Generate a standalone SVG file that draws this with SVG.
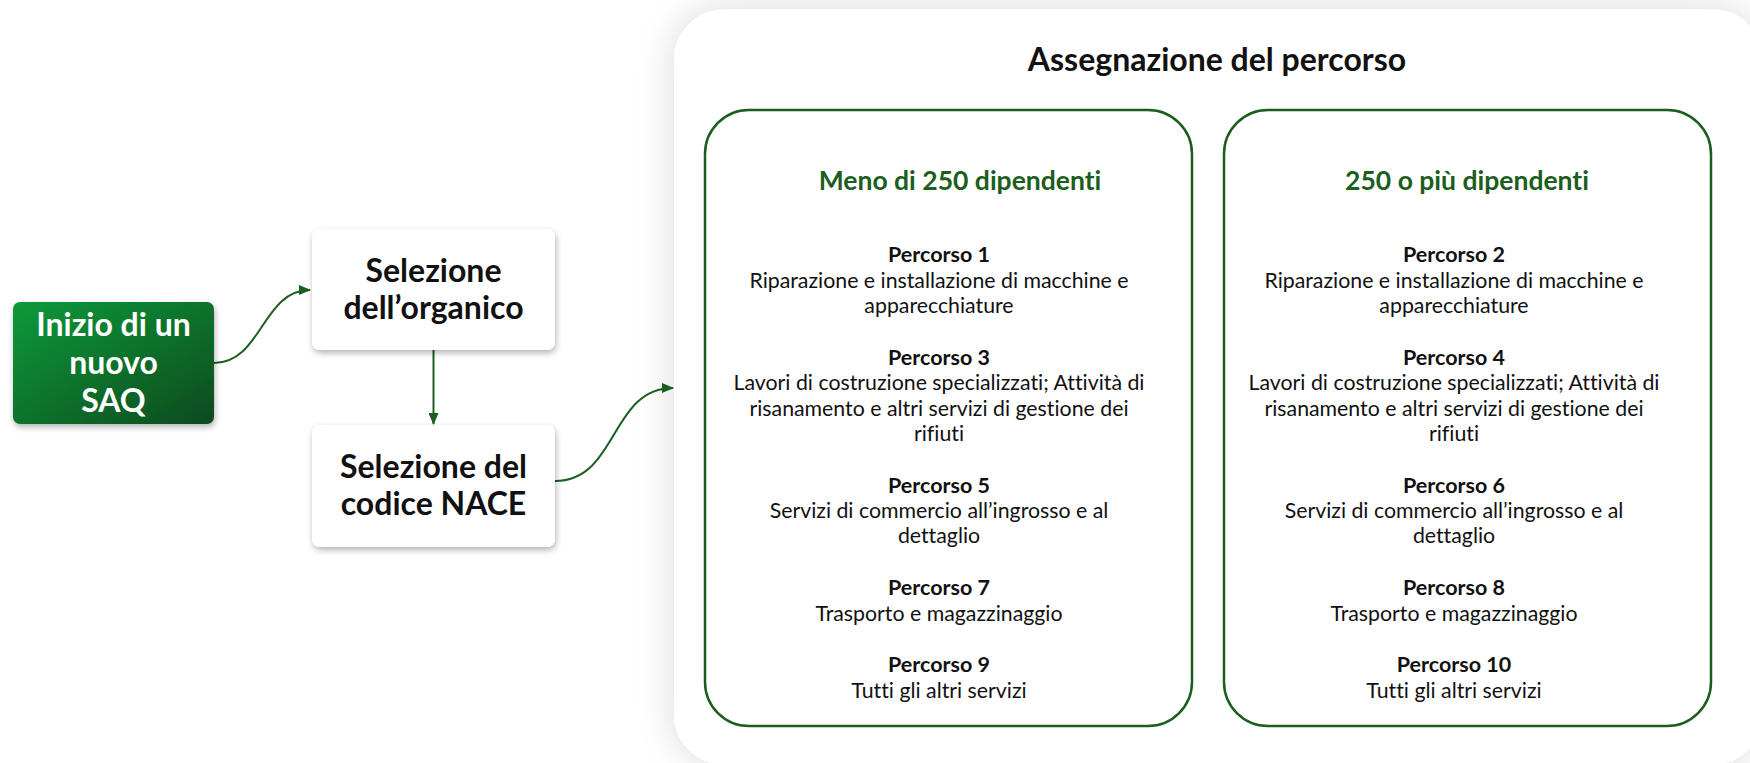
<svg xmlns="http://www.w3.org/2000/svg" width="1750" height="763" viewBox="0 0 1750 763">
<style>
  text { font-family: Lato, "Liberation Sans", sans-serif; font-variant-ligatures: no-common-ligatures; }
  .node { font-size: 32px; font-weight: 700; text-anchor: middle; fill: #111; }
  .start { font-size: 32px; font-weight: 700; text-anchor: middle; fill: #ffffff; }
  .title { font-size: 32px; font-weight: 700; text-anchor: middle; fill: #111; }
  .head { font-size: 26.5px; font-weight: 700; text-anchor: middle; fill: #1b5e20; }
  .pb { font-size: 21.5px; font-weight: 700; text-anchor: middle; fill: #111; }
  .pt { font-size: 21.3px; font-weight: 400; text-anchor: middle; fill: #111; }
  .box { fill: #ffffff; stroke: #1b5e20; stroke-width: 2.5; }
  .card { fill: #ffffff; filter: url(#cardShadow); }
  .conn { fill: none; stroke: #1b5e20; stroke-width: 2; marker-end: url(#arrow); }
</style>
<defs>
  <linearGradient id="gStart" x1="0" y1="0" x2="1" y2="1">
    <stop offset="0" stop-color="#0b9a3a"/>
    <stop offset="1" stop-color="#0a4a1e"/>
  </linearGradient>
  <filter id="panelShadow" filterUnits="userSpaceOnUse" x="560" y="-100" width="1300" height="960">
    <feDropShadow dx="0" dy="0" stdDeviation="18" flood-color="#000" flood-opacity="0.15"/>
  </filter>
  <filter id="cardShadow" x="-20%" y="-20%" width="140%" height="150%">
    <feDropShadow dx="1" dy="3" stdDeviation="3" flood-color="#000" flood-opacity="0.3"/>
  </filter>
  <marker id="arrow" viewBox="0 0 12 10" refX="11" refY="5" markerWidth="12" markerHeight="10" markerUnits="userSpaceOnUse" orient="auto">
    <path d="M0,0 L12,5 L0,10 Z" fill="#1b5e20"/>
  </marker>
</defs>
<rect width="1750" height="763" fill="#ffffff"/>

<g id="panel">
  <rect x="674" y="9.5" width="1089" height="755" rx="50" fill="#ffffff" filter="url(#panelShadow)"/>
  <text class="title" x="1217" y="71">Assegnazione del percorso</text>
</g>

<g id="connectors">
  <path class="conn" d="M214,363 C262,363 262,290 310,290"/>
  <path class="conn" d="M433.5,350 L433.5,424"/>
  <path class="conn" d="M555,481 C618,481 610,388 673,388"/>
</g>

<g id="start">
  <rect x="13" y="302" width="201" height="122" rx="7" fill="url(#gStart)" filter="url(#cardShadow)"/>
  <text class="start" x="113.5" y="336">Inizio di un</text>
  <text class="start" x="113.5" y="374">nuovo</text>
  <text class="start" x="113.5" y="412">SAQ</text>
</g>

<g id="organico">
  <rect class="card" x="312" y="229" width="243" height="121" rx="8"/>
  <text class="node" x="433.5" y="282">Selezione</text>
  <text class="node" x="433.5" y="319">dell’organico</text>
</g>

<g id="nace">
  <rect class="card" x="312" y="425" width="243" height="122" rx="8"/>
  <text class="node" x="433.5" y="478">Selezione del</text>
  <text class="node" x="433.5" y="515">codice NACE</text>
</g>

<g id="meno250">
  <rect class="box" x="705" y="110" width="487" height="616" rx="44"/>
  <text class="head" x="960" y="190">Meno di 250 dipendenti</text>
  <text class="pb" x="939" y="262">Percorso 1</text>
  <text class="pt" x="939" y="287.5">Riparazione e installazione di macchine e</text>
  <text class="pt" x="939" y="313">apparecchiature</text>
  <text class="pb" x="939" y="365">Percorso 3</text>
  <text class="pt" x="939" y="390">Lavori di costruzione specializzati; Attività di</text>
  <text class="pt" x="939" y="415.5">risanamento e altri servizi di gestione dei</text>
  <text class="pt" x="939" y="441">rifiuti</text>
  <text class="pb" x="939" y="492.5">Percorso 5</text>
  <text class="pt" x="939" y="518">Servizi di commercio all’ingrosso e al</text>
  <text class="pt" x="939" y="543">dettaglio</text>
  <text class="pb" x="939" y="595">Percorso 7</text>
  <text class="pt" x="939" y="620.5">Trasporto e magazzinaggio</text>
  <text class="pb" x="939" y="672">Percorso 9</text>
  <text class="pt" x="939" y="697.5">Tutti gli altri servizi</text>
</g>

<g id="piu250">
  <rect class="box" x="1224" y="110" width="487" height="616" rx="44"/>
  <text class="head" x="1467" y="190">250 o più dipendenti</text>
  <text class="pb" x="1454" y="262">Percorso 2</text>
  <text class="pt" x="1454" y="287.5">Riparazione e installazione di macchine e</text>
  <text class="pt" x="1454" y="313">apparecchiature</text>
  <text class="pb" x="1454" y="365">Percorso 4</text>
  <text class="pt" x="1454" y="390">Lavori di costruzione specializzati; Attività di</text>
  <text class="pt" x="1454" y="415.5">risanamento e altri servizi di gestione dei</text>
  <text class="pt" x="1454" y="441">rifiuti</text>
  <text class="pb" x="1454" y="492.5">Percorso 6</text>
  <text class="pt" x="1454" y="518">Servizi di commercio all’ingrosso e al</text>
  <text class="pt" x="1454" y="543">dettaglio</text>
  <text class="pb" x="1454" y="595">Percorso 8</text>
  <text class="pt" x="1454" y="620.5">Trasporto e magazzinaggio</text>
  <text class="pb" x="1454" y="672">Percorso 10</text>
  <text class="pt" x="1454" y="697.5">Tutti gli altri servizi</text>
</g>
</svg>
